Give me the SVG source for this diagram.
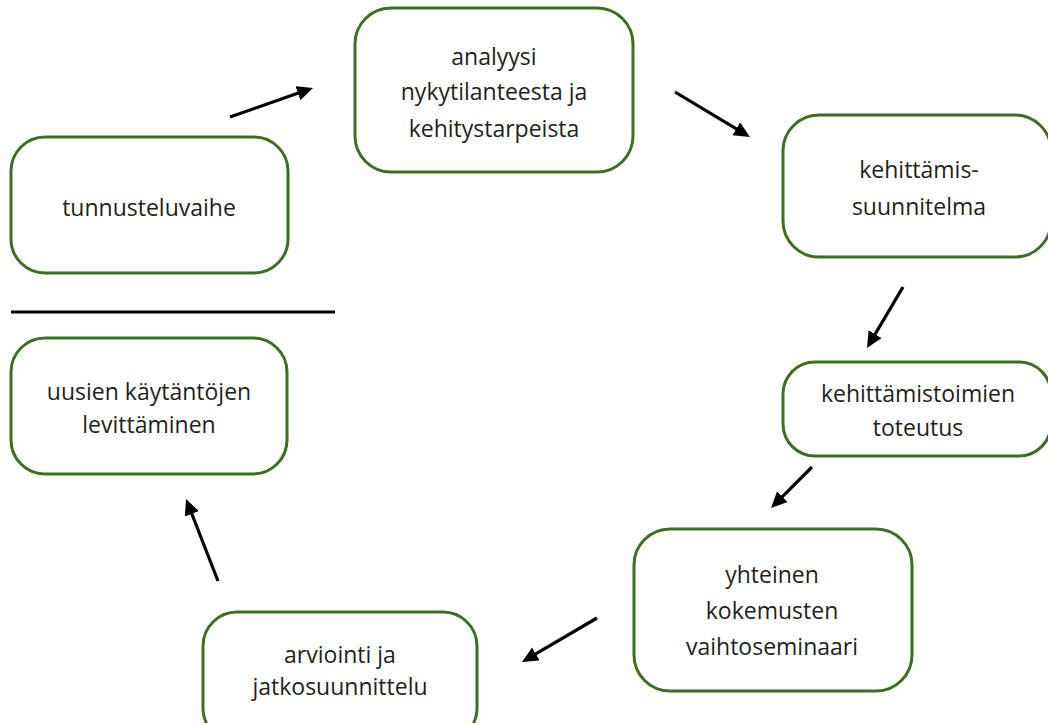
<svg xmlns="http://www.w3.org/2000/svg" width="1048" height="723" viewBox="0 0 1048 723">
<defs>
<style>
.box{fill:#ffffff;stroke:#3d6e22;stroke-width:3}
.t{font-family:"Open Sans","Noto Sans",sans-serif;font-size:23px;fill:#231f20;text-anchor:middle}
.arr{stroke:#000;stroke-width:3.2;fill:none;marker-end:url(#ah)}
</style>
<marker id="ah" markerUnits="userSpaceOnUse" markerWidth="18" markerHeight="16" refX="2" refY="7.5" orient="auto" viewBox="0 0 18 16">
<path d="M0,0 L16,7.5 L0,15 z" fill="#000"/>
</marker>
</defs>
<rect width="1048" height="723" fill="#fff"/>
<g id="n1"><rect class="box" x="11" y="137" width="277" height="136" rx="34"/><text class="t" x="149" y="216">tunnusteluvaihe</text></g>
<g id="n2"><rect class="box" x="355" y="8" width="278" height="164" rx="36"/><text class="t" x="494" y="65">analyysi</text><text class="t" x="494" y="100">nykytilanteesta ja</text><text class="t" x="494" y="137">kehitystarpeista</text></g>
<g id="n3"><rect class="box" x="783" y="115" width="268" height="142" rx="36"/><text class="t" x="919" y="178">kehittämis-</text><text class="t" x="919" y="215">suunnitelma</text></g>
<g id="n4"><rect class="box" x="783" y="362" width="268" height="94" rx="32"/><text class="t" x="918" y="402">kehittämistoimien</text><text class="t" x="918" y="436">toteutus</text></g>
<g id="n5"><rect class="box" x="634" y="529" width="278" height="162" rx="36"/><text class="t" x="772" y="583">yhteinen</text><text class="t" x="772" y="619">kokemusten</text><text class="t" x="772" y="655">vaihtoseminaari</text></g>
<g id="n6"><rect class="box" x="203" y="612" width="274" height="130" rx="34"/><text class="t" x="340" y="663">arviointi ja</text><text class="t" x="340" y="695">jatkosuunnittelu</text></g>
<g id="n7"><rect class="box" x="11" y="338" width="276" height="136" rx="34"/><text class="t" x="149" y="400">uusien käytäntöjen</text><text class="t" x="149" y="433">levittäminen</text></g>
<line x1="11" y1="312" x2="335" y2="312" stroke="#000" stroke-width="3"/>
<g id="connectors">
<line class="arr" x1="230" y1="117" x2="299.8" y2="92.6"/>
<line class="arr" x1="675" y1="92" x2="738" y2="129.8"/>
<line class="arr" x1="903" y1="287" x2="874.1" y2="335.9"/>
<line class="arr" x1="812" y1="467" x2="780.9" y2="498.1"/>
<line class="arr" x1="597" y1="618" x2="534.1" y2="654.9"/>
<line class="arr" x1="218" y1="581" x2="191.1" y2="512"/>
</g>
</svg>
